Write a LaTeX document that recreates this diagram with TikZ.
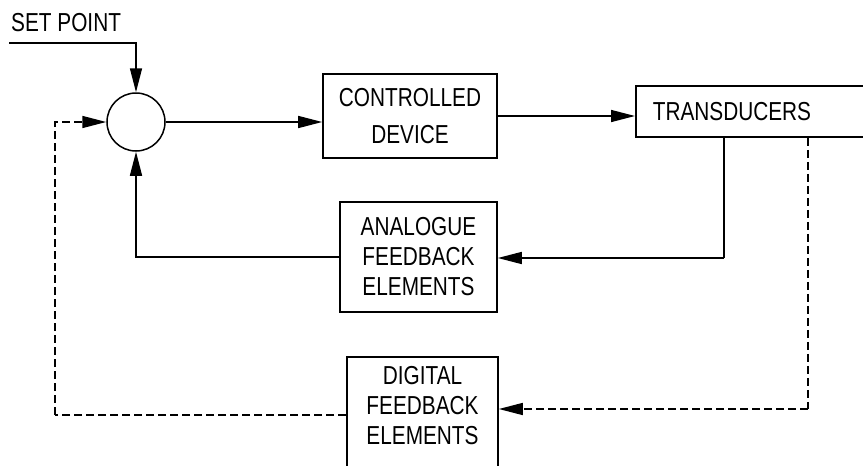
\documentclass[tikz,border=0pt]{standalone}
\usepackage{fontspec}
\setmainfont{Liberation Sans}[FakeStretch=0.80]
\usetikzlibrary{arrows.meta,calc}

\tikzset{
  blk/.style={draw, line width=1.6pt, rectangle, inner sep=0pt,
    font=\fontsize{26}{30}\selectfont, align=center},
  lbl/.style={inner sep=0pt, font=\fontsize{26}{30}\selectfont, align=center},
  sumjn/.style={draw, circle, line width=1.5pt, minimum size=58pt, inner sep=0pt},
  link/.style={line width=1.5pt, -{Triangle[length=24pt,width=12pt]}},
  dlink/.style={link, dash pattern=on 8pt off 4pt},
  wire/.style={line width=1.5pt},
}

\begin{document}
\begin{tikzpicture}[x=1pt,y=-1pt]
  \useasboundingbox (0,0) rectangle (863,466);
  \fill[white] (0,0) rectangle (863,466);
  \clip (0,0) rectangle (863,466);

  % input label and summing junction
  \node[lbl, anchor=base west] (sp) at (11,31) {SET POINT};
  \coordinate (spin) at (9,43);
  \node[sumjn] (sum) at (136,122) {};

  % forward path
  \node[blk, minimum width=174pt, minimum height=84pt] (cd) at (410,116)
    {CONTROLLED\\[7pt]DEVICE};
  \node[blk, anchor=west, minimum height=51pt, text width=211pt,
        inner xsep=17pt, align=left] (tr) at (635,111.5) {TRANSDUCERS};

  % feedback blocks
  \node[blk, minimum width=157pt, minimum height=110pt] (ana) at (418.5,257)
    {ANALOGUE\\FEEDBACK\\ELEMENTS};
  \node[blk, anchor=north, minimum width=151pt, minimum height=124pt] (dig)
    at (422.5,356) {};
  \node[lbl] (digtxt) at (422.5,406) {DIGITAL\\FEEDBACK\\ELEMENTS};

  % bend points of the feedback loops
  \coordinate (af) at (724,258);
  \coordinate (df) at (808,409);
  \coordinate (dl) at (55,415);

  % set point into junction
  \draw[link] (spin) -| (sum.north);

  % forward connections
  \draw[link] (sum.east) -- (sum.east -| cd.west);
  \draw[link] (cd.east) -- (cd.east -| tr.west);

  % analogue feedback loop
  \draw[wire] (tr.south -| af) -- (af);
  \draw[link] (af) -- (af -| ana.east);
  \draw[link] (ana.west) -| (sum.south);

  % digital feedback loop
  \draw[wire, dash pattern=on 8pt off 4pt] (tr.south -| df) -- (df);
  \draw[dlink] (df) -- (df -| dig.east);
  \draw[wire, dash pattern=on 8pt off 4pt] (dig.west |- dl) -- (dl);
  \draw[dlink] (dl) |- (sum.west);
\end{tikzpicture}
\end{document}
